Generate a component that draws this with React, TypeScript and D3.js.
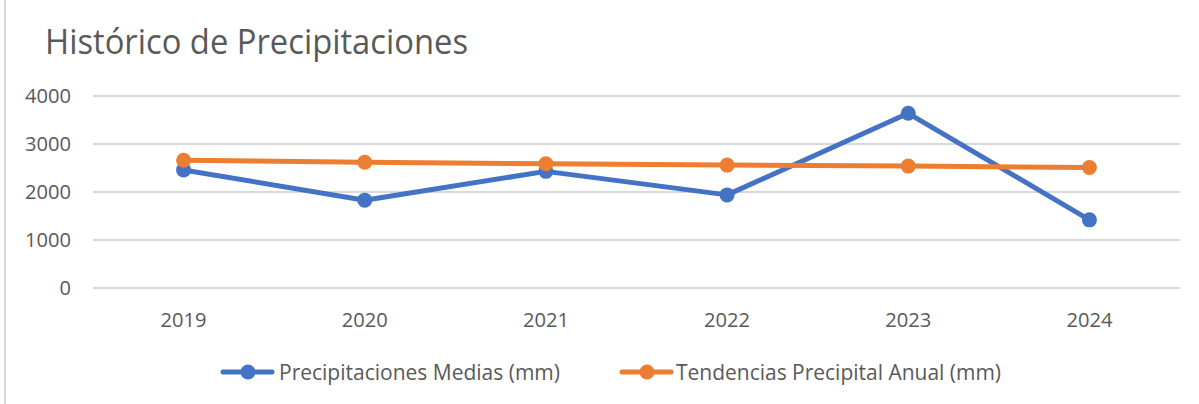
import React from "react";
import * as d3 from "d3";

const years = ["2019", "2020", "2021", "2022", "2023", "2024"];
const precipMedias = [2460, 1830, 2430, 1940, 3640, 1420];
const tendencias = [2660, 2620, 2590, 2560, 2540, 2510];
const yTicks = [0, 1000, 2000, 3000, 4000];
const seriesNames = ["Precipitaciones Medias (mm)", "Tendencias Precipital Anual (mm)"];

const W = 1199;
const H = 404;
const FONT = "'Open Sans', 'Noto Sans', sans-serif";
const BLUE = "#4472C4";
const ORANGE = "#ED7D31";
const TXT = "#595959";

export default function App() {
  const x = d3.scaleBand<string>().domain(years).range([93, 1180]);
  const y = d3.scaleLinear().domain([0, 4000]).range([288, 96]);
  const line = d3
    .line<number>()
    .x((_, i) => (x(years[i]) as number) + x.bandwidth() / 2)
    .y((d) => y(d));

  const series = [
    { name: seriesNames[0], values: precipMedias, color: BLUE },
    { name: seriesNames[1], values: tendencias, color: ORANGE },
  ];

  const legend = [
    { x0: 220, tx: 279, tw: 281 },
    { x0: 619, tx: 676, tw: 325 },
  ];

  return (
    <svg
      width={W}
      height={H}
      style={{ position: "absolute", left: 0, top: 0, background: "#fff" }}
      fontFamily={FONT}
    >
      <rect x={0} y={0} width={W} height={H} fill="#fff" />
      <line x1={5} x2={5} y1={0} y2={H} stroke="#d9d9d9" strokeWidth={2} />
      <text x={45} y={54} fontSize={34} fill={TXT} textLength={423} lengthAdjust="spacingAndGlyphs">
        Histórico de Precipitaciones
      </text>
      {yTicks.map((t) => (
        <g key={t}>
          <line x1={93} x2={1180} y1={y(t)} y2={y(t)} stroke="#d9d9d9" strokeWidth={2} />
          <text x={71} y={y(t)} dy="0.36em" textAnchor="end" fontSize={20} fill={TXT} textLength={t === 0 ? undefined : 46} lengthAdjust="spacingAndGlyphs">
            {t}
          </text>
        </g>
      ))}
      {years.map((yr) => (
        <text
          key={yr}
          x={(x(yr) as number) + x.bandwidth() / 2}
          y={320}
          dy="0.36em"
          textAnchor="middle"
          fontSize={20}
          fill={TXT}
          textLength={46}
          lengthAdjust="spacingAndGlyphs"
        >
          {yr}
        </text>
      ))}
      {series.map((s) => (
        <g key={s.name}>
          <path d={line(s.values) || ""} fill="none" stroke={s.color} strokeWidth={5} strokeLinejoin="round" strokeLinecap="round" />
          {s.values.map((v, i) => (
            <circle
              key={i}
              cx={(x(years[i]) as number) + x.bandwidth() / 2}
              cy={y(v)}
              r={7.5}
              fill={s.color}
            />
          ))}
        </g>
      ))}
      {series.map((s, i) => (
        <g key={"lg" + i}>
          <line x1={legend[i].x0 + 3} x2={legend[i].x0 + 52} y1={372} y2={372} stroke={s.color} strokeWidth={5} strokeLinecap="round" />
          <circle cx={legend[i].x0 + 28} cy={372} r={7.5} fill={s.color} />
          <text x={legend[i].tx} y={372} dy="0.36em" fontSize={21} fill={TXT} textLength={legend[i].tw} lengthAdjust="spacingAndGlyphs">
            {s.name}
          </text>
        </g>
      ))}
    </svg>
  );
}
